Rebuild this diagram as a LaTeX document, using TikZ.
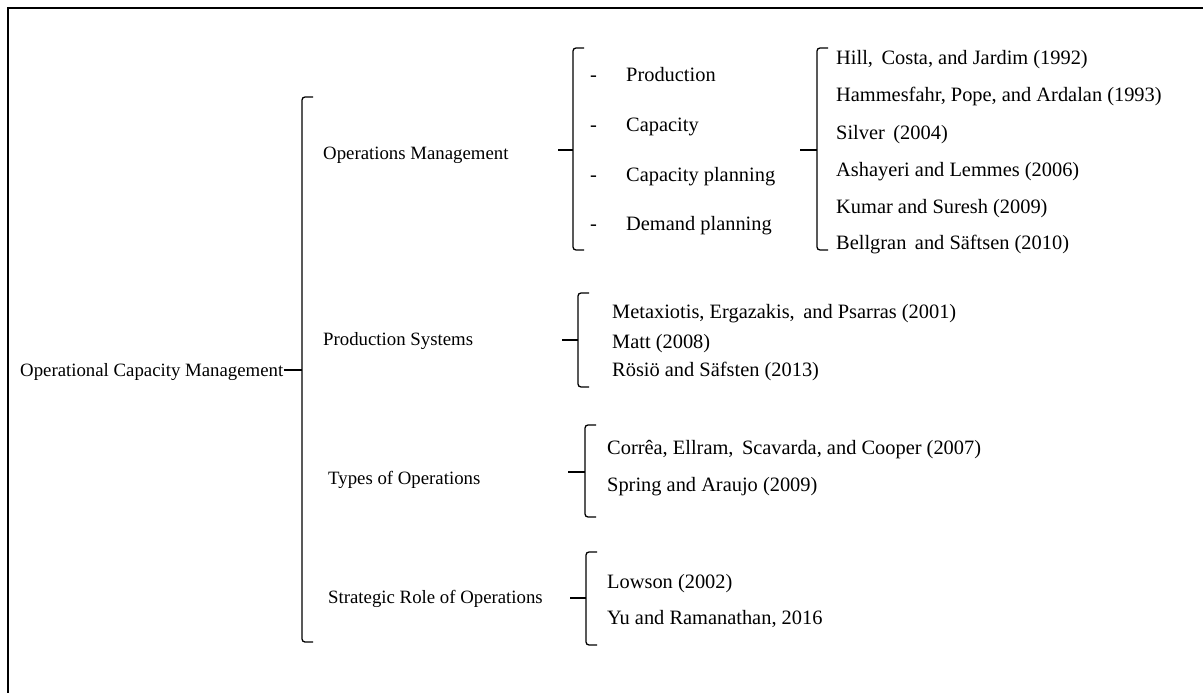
\documentclass[tikz,border=0pt]{standalone}
\usepackage{fontspec}
\setmainfont{Liberation Serif}

\newcommand\capbranchstyle{\fontsize{18.8}{22}\selectfont}
\newcommand\capitemstyle{\fontsize{20.4}{24}\selectfont}
\newcommand\caphook{11}
% bracket: name, x, top, bottom, middle
\newcommand\capbracket[5]{
  \coordinate (#1-top) at (#2 + \caphook, #3) ;
  \coordinate (#1-bot) at (#2 + \caphook, #4) ;
  \coordinate (#1-mid) at (#2, #5) ;
  \draw[bracket] (#1-top) -- (#2, #3) -- (#2, #4) -- (#1-bot) ;
}

\tikzset{
  bracket/.style={line width=1.3pt, rounded corners=3pt},
  branch/.style={anchor=west, inner sep=0pt, text height=0.7em, text depth=0.2em, yshift=-4pt, font=\capbranchstyle},
  item/.style={anchor=west, inner sep=0pt, text height=0.7em, text depth=0.2em, yshift=-4pt, font=\capitemstyle},
}

\begin{document}
\begin{tikzpicture}[x=1pt, y=-1pt]
    \useasboundingbox (0, 0) rectangle (1203, 693) ;
    \draw[line width=2pt] (1203, 8) -- (8, 8) -- (8, 693) ;

    \node[branch] (ocm) at (20, 370) {Operational Capacity Management} ;
    \node[branch] (om) at (323, 153) {Operations Management} ;
    \node[branch] (ps) at (323, 339) {Production Systems} ;
    \node[branch] (to) at (328, 478) {Types of Operations} ;
    \node[branch] (sr) at (328, 597) {Strategic Role of Operations} ;

    \capbracket{main}{302}{97}{642}{370}
    \draw[bracket] (ocm.east |- main-mid) -- (main-mid) ;

    % operations management
    \capbracket{omb}{573}{48}{250}{150}
    \coordinate (omt) at (558, 150) ;
    \draw[bracket] (omt) -- (omb-mid) ;
    \node[item] (dash1) at (590, 75) {-} ;
    \node[item] (dash2) at (590, 125) {-} ;
    \node[item] (dash3) at (590, 175) {-} ;
    \node[item] (dash4) at (590, 224) {-} ;
    \node[item] (prod) at (626, 75) {Production} ;
    \node[item] (cap) at (626, 125) {Capacity} ;
    \node[item] (capp) at (626, 175) {Capacity planning} ;
    \node[item] (demp) at (626, 224) {Demand planning} ;

    \capbracket{refb}{817}{48}{250}{150}
    \coordinate (reft) at (800, 150) ;
    \draw[bracket] (reft) -- (refb-mid) ;
    \node[item] (hill) at (836, 58) {Hill,\, Costa, and Jardim (1992)} ;
    \node[item] (hamm) at (836, 95) {Hammesfahr, Pope, and Ardalan (1993)} ;
    \node[item] (silv) at (836, 133) {Silver\, (2004)} ;
    \node[item] (asha) at (836, 170) {Ashayeri and Lemmes (2006)} ;
    \node[item] (kuma) at (836, 207) {Kumar and Suresh (2009)} ;
    \node[item] (bell) at (836, 243) {Bellgran\, and Säftsen (2010)} ;

    % production systems
    \capbracket{psb}{578}{293}{387}{340}
    \coordinate (pst) at (562, 340) ;
    \draw[bracket] (pst) -- (psb-mid) ;
    \node[item] (meta) at (612, 312) {Metaxiotis, Ergazakis,\, and Psarras (2001)} ;
    \node[item] (matt) at (612, 342) {Matt (2008)} ;
    \node[item] (rosi) at (612, 370) {Rösiö and Säfsten (2013)} ;

    % types of operations
    \capbracket{tob}{585}{425}{517}{472}
    \coordinate (tot) at (568, 472) ;
    \draw[bracket] (tot) -- (tob-mid) ;
    \node[item] (corr) at (607, 448) {Corrêa, Ellram,\, Scavarda, and Cooper (2007)} ;
    \node[item] (spri) at (607, 485) {Spring and Araujo (2009)} ;

    % strategic role
    \capbracket{srb}{586}{552}{645}{598}
    \coordinate (srt) at (570, 598) ;
    \draw[bracket] (srt) -- (srb-mid) ;
    \node[item] (lows) at (607, 582) {Lowson (2002)} ;
    \node[item] (yura) at (607, 618) {Yu and Ramanathan, 2016} ;
\end{tikzpicture}
\end{document}
